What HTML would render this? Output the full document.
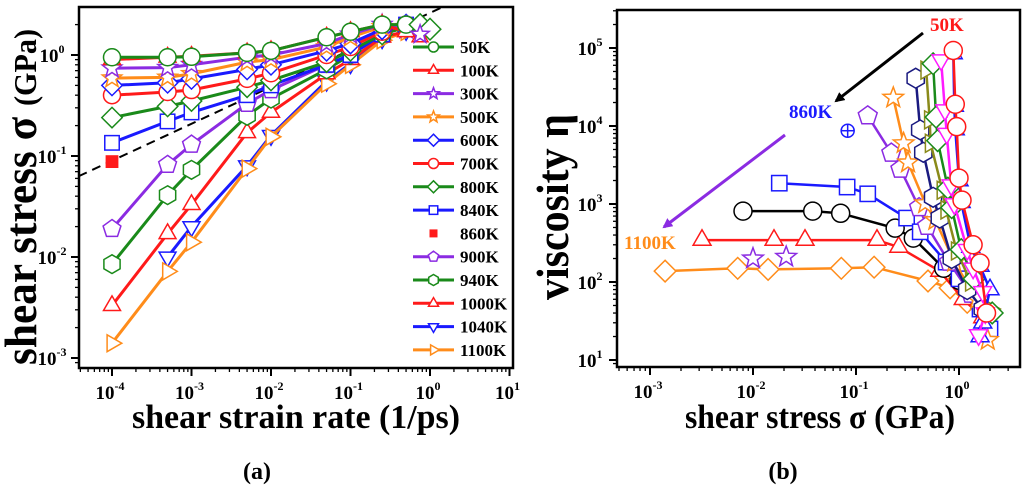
<!DOCTYPE html>
<html><head><meta charset="utf-8"><style>
html,body{margin:0;padding:0;background:#fff;}
svg{display:block;font-family:"Liberation Serif","DejaVu Serif",serif;}
</style></head><body>
<svg id="fig" width="1024" height="490" viewBox="0 0 1024 490" xmlns="http://www.w3.org/2000/svg">
<g id="gA"></g>
<g id="gB"></g>
<text x="257" y="479" font-size="24" font-weight="bold" text-anchor="middle">(a)</text>
<text x="783" y="479" font-size="24" font-weight="bold" text-anchor="middle">(b)</text>
</svg>
<script>
// ---------- Panel (a) data ----------
const rateX = [1e-4,5e-4,1e-3,5e-3,1e-2,5e-2,1e-1,2.5e-1,5e-1];
const s50K   = [0.95,0.95,0.96,1.05,1.1,1.5,1.7,2.0,2.0];
const s100K  = [0.9,0.95,0.97,1.05,1.1,1.5,1.7,2.0,1.7];
const s300K  = [0.74,0.75,0.8,0.95,1.0,1.3,1.6,2.0,1.8];
const s500K  = [0.59,0.6,0.65,0.85,0.9,1.2,1.5,1.9,1.9];
const s600K  = [0.5,0.53,0.58,0.72,0.8,1.1,1.3,1.8,2.0];
const s700K  = [0.4,0.43,0.45,0.58,0.66,1.0,1.2,1.7,2.0];
const s800K  = [0.24,0.31,0.35,0.48,0.56,0.85,1.1,1.6,1.9];
const s840K  = [0.135,0.22,0.27,0.4,0.5,0.8,1.0,1.6,2.0];
const s860K  = [0.088];
const s900K  = [0.019,0.082,0.13,0.33,0.45,0.8,1.0,1.6,1.9];
const s940K  = [0.0085,0.041,0.073,0.25,0.37,0.72,1.0,1.6,1.9];
const s1000K = [0.0033,0.017,0.033,0.17,0.27,0.65,0.9,1.5,1.7];
const s1040K = [null,0.010,0.020,0.08,0.16,0.55,0.82,1.45,1.75];
const s1100K = [0.0014,0.0072,0.014,0.075,0.155,0.52,0.8,1.4,1.7];
const extraX = [0.75,1.0];
const extra800K = [2.0,1.8];
const extra100K = [1.5,null];
const extra300K = [1.6,null];
const dashX = [3.8e-5, 1.45];
const dashY = [0.063, 2.99];
const aXTicks = [-4,-3,-2,-1,0,1];
const aYTicks = [-3,-2,-1,0];

// ---------- Panel (b) data ----------
const d1100Ks = [0.0014,0.0071,0.014,0.072,0.15,0.5,0.82,1.2];
const d1100Ke = [138,150,145,150,155,103,84,55];
const d1000Ks = [0.0032,0.016,0.032,0.16,0.26,0.65,1.1,1.7];
const d1000Ke = [345,345,345,345,280,138,60,35];
const d940Ks = [0.008,0.038,0.071,0.24,0.36,0.71,1.0,1.4];
const d940Ke = [810,810,760,490,365,150,105,70];
const d840Ks = [0.018,0.082,0.13,0.31,0.42,0.75,1.0,1.6,2.0];
const d840Ke = [1850,1650,1350,660,440,180,110,45,25];
const d900Ks = [0.13,0.22,0.27,0.41,0.49,0.8,1.3,1.9];
const d900Ke = [13500,4500,2800,900,520,180,70,40];
const d500Ks = [0.23,0.29,0.32,0.47,0.59,0.9,1.5,1.9];
const d500Ke = [23000,6000,3400,1020,620,180,60,18];
const d300Ks = [0.01,0.021];
const d300Ke = [200,210];
const d860Ks = [0.083];
const d860Ke = [8700];
const dHexs = [0.38,0.42,0.45,0.56,0.65,0.85,1.2,1.7];
const dHexe = [41000,8900,4600,1220,660,200,80,45];
const dOlivs = [0.48,0.52,0.53,0.69,0.75,0.95,1.3,2.0];
const dOlive = [52000,12000,6000,1500,840,250,100,45];
const dGrns = [0.56,0.6,0.62,0.78,0.85,1.05,1.4,2.1];
const dGrne = [63000,13000,6500,1600,900,260,110,40];
const dBlus = [0.88,0.9,0.92,1.0,1.05,1.3,1.6,2.0,1.7,1.6];
const dBlue = [85000,18000,9000,2000,1050,280,160,80,30,20];
const dMags = [0.67,0.73,0.76,0.84,0.9,1.2,1.37,1.7,1.8,1.55];
const dMage = [70000,16000,8000,1750,1000,260,150,75,40,21];
const dReds = [0.88,0.92,0.95,1.0,1.07,1.37,1.6,1.85];
const dRede = [93000,19000,9800,2150,1120,300,175,40];
const bXTicks = [-3,-2,-1,0];
const bYTicks = [1,2,3,4,5];

const NS = "http://www.w3.org/2000/svg";
function mk(parent, tag, attrs){
  const e = document.createElementNS(NS, tag);
  for (const k in attrs) e.setAttribute(k, attrs[k]);
  parent.appendChild(e);
  return e;
}
const L = Math.log10;
const aX = v => 112 + 79.5*(L(v)+4);
const aY = v => 55 - 101*L(v);
const bX = v => 959 + 103*L(v);
const bY = v => 282 - 78*(L(v)-2);

function marker(g, shape, x, y, color, r){
  r = r || 7;
  const a = {fill:'#fff', stroke:color, 'stroke-width':1.5};
  let e;
  const poly = (pts)=>mk(g,'polygon',Object.assign({points:pts.map(p=>p[0].toFixed(1)+','+p[1].toFixed(1)).join(' ')},a));
  const reg = (n,rot,rr)=>{const p=[];for(let i=0;i<n;i++){const t=rot+i*2*Math.PI/n;p.push([x+rr*Math.cos(t),y+rr*Math.sin(t)]);}return p;};
  if(shape==='circle') e = mk(g,'circle',Object.assign({cx:x,cy:y,r:r},a));
  else if(shape==='tri') e = poly(reg(3,-Math.PI/2,r*1.15));
  else if(shape==='dtri') e = poly(reg(3,Math.PI/2,r*1.15));
  else if(shape==='rtri') e = poly(reg(3,0,r*1.15));
  else if(shape==='diamond') e = poly(reg(4,-Math.PI/2,r*1.2));
  else if(shape==='square') e = mk(g,'rect',Object.assign({x:x-r*0.85,y:y-r*0.85,width:r*1.7,height:r*1.7},a));
  else if(shape==='fsquare') e = mk(g,'rect',{x:x-r*0.8,y:y-r*0.8,width:r*1.6,height:r*1.6,fill:color});
  else if(shape==='pent') e = poly(reg(5,-Math.PI/2,r*1.1));
  else if(shape==='hex') e = poly(reg(6,-Math.PI/2,r*1.1));
  else if(shape==='star'){const p=[];for(let i=0;i<10;i++){const t=-Math.PI/2+i*Math.PI/5;const rr=i%2?r*0.5:r*1.2;p.push([x+rr*Math.cos(t),y+rr*Math.sin(t)]);}e=poly(p);}
  else if(shape==='cross'){e=mk(g,'circle',Object.assign({cx:x,cy:y,r:r},a));
    mk(g,'line',{x1:x-r,y1:y,x2:x+r,y2:y,stroke:color,'stroke-width':1.5});
    mk(g,'line',{x1:x,y1:y-r,x2:x,y2:y+r,stroke:color,'stroke-width':1.5});}
  return e;
}

function series(g, xs, ys, fx, fy, color, shape, name, r, lw, dash){
  const s = mk(g,'g',{});
  
  
  const pts=[];
  xs.forEach((xv,i)=>{ if(ys[i]!=null) pts.push([fx(xv),fy(ys[i])]); });
  if(pts.length>1 && lw>0){
    const pl = mk(s,'polyline',{points:pts.map(p=>p[0].toFixed(1)+','+p[1].toFixed(1)).join(' '),fill:'none',stroke:color,'stroke-width':lw});
    if(dash) pl.setAttribute('stroke-dasharray',dash);
  }
  pts.forEach(p=>marker(s,shape,p[0],p[1],color,r));
}

function axes(g, x0,y0,x1,y1, fx, fy, xt, yt, xmin,xmax,ymin,ymax){
  const ax = mk(g,'g',{});
  
  
  for(let d=Math.floor(xmin); d<=xmax; d++){
    for(let m=1;m<10;m++){const v=m*Math.pow(10,d); const lv=L(v); if(lv<xmin||lv>xmax) continue;
      const X=fx(v); mk(ax,'line',{x1:X,y1:y1,x2:X,y2:y1+(m===1?8:4),stroke:'#000','stroke-width':m===1?2:1.3});}
  }
  for(let d=Math.floor(ymin); d<=ymax; d++){
    for(let m=1;m<10;m++){const v=m*Math.pow(10,d); const lv=L(v); if(lv<ymin||lv>ymax) continue;
      const Y=fy(v); mk(ax,'line',{x1:x0,y1:Y,x2:x0-(m===1?8:4),y2:Y,stroke:'#000','stroke-width':m===1?2:1.3});}
  }
  mk(ax,'rect',{x:x0,y:y0,width:x1-x0,height:y1-y0,fill:'none',stroke:'#000','stroke-width':2.5});
  xt.forEach(e=>{const X=fx(Math.pow(10,e));
    const t=mk(ax,'text',{x:X-2,y:y1+31,'font-size':19,'font-weight':'bold','text-anchor':'middle'});
    
    
    t.textContent='10';
    const s=mk(t,'tspan',{dy:-9,'font-size':12});s.textContent=String(e);});
  yt.forEach(e=>{const Y=fy(Math.pow(10,e));
    const t=mk(ax,'text',{x:x0-27,y:Y+7,'font-size':19,'font-weight':'bold','text-anchor':'middle'});
    
    
    t.textContent='10';
    const s=mk(t,'tspan',{dy:-9,'font-size':12});s.textContent=String(e);});
}

// ---------- draw panel a ----------
const gA = document.getElementById('gA');
axes(gA,79,7,513,368,aX,aY,aXTicks,aYTicks,-4.42,1.04,-3.09,0.475);
const dl = mk(gA,'line',{x1:aX(dashX[0]),y1:aY(dashY[0]),x2:aX(dashX[1]),y2:aY(dashY[1]),stroke:'#000','stroke-width':2,'stroke-dasharray':'9,6'});


const GRN='#1a8a1a',RED='#ff1a1a',PUR='#8b2be2',ORG='#ff8c1a',BLU='#1a1aff';
const aSeries = [
  [s1040K,BLU,'dtri','1040K'],[s1100K,ORG,'rtri','1100K'],[s1000K,RED,'tri','1000K'],[s940K,GRN,'hex','940K'],
  [s900K,PUR,'pent','900K'],[s840K,BLU,'square','840K'],[s800K,GRN,'diamond','800K'],[s700K,RED,'circle','700K'],
  [s600K,BLU,'diamond','600K'],[s500K,ORG,'star','500K'],[s300K,PUR,'star','300K'],[s100K,RED,'tri','100K'],[s50K,GRN,'circle','50K']
];
aSeries.forEach(s=>series(gA,rateX,s[0],aX,aY,s[1],s[2],'series-'+s[3],8.5,3));
series(gA,extraX,extra800K,aX,aY,GRN,'diamond','series-800K-tail',9,0);
series(gA,extraX,extra100K,aX,aY,RED,'tri','series-100K-tail',8,0);
series(gA,extraX,extra300K,aX,aY,PUR,'star','series-300K-tail',8,0);
series(gA,[1e-4],s860K,aX,aY,RED,'fsquare','series-860K',8,0);

const legItems=[['50K',GRN,'circle'],['100K',RED,'tri'],['300K',PUR,'star'],['500K',ORG,'star'],['600K',BLU,'diamond'],['700K',RED,'circle'],['800K',GRN,'diamond'],['840K',BLU,'square'],['860K',RED,'fsquare'],['900K',PUR,'pent'],['940K',GRN,'hex'],['1000K',RED,'tri'],['1040K',BLU,'dtri'],['1100K',ORG,'rtri']];
const lg = mk(gA,'g',{});


legItems.forEach((it,i)=>{
  const y=47+i*23.3;
  const e=mk(lg,'g',{});
  
  
  if(it[2]!=='fsquare') mk(e,'line',{x1:413,y1:y,x2:454,y2:y,stroke:it[1],'stroke-width':3});
  marker(e,it[2],433.5,y,it[1],5);
  const t=mk(e,'text',{x:460,y:y+6,'font-size':17,'font-weight':'bold'});
  t.textContent=it[0];
});
const ayt=mk(gA,'text',{transform:'translate(36,197) rotate(-90)','text-anchor':'middle','font-weight':'bold','font-size':46,textLength:336,lengthAdjust:'spacingAndGlyphs'});


ayt.innerHTML='shear stress σ <tspan font-size="32">(GPa)</tspan>';
const axt=mk(gA,'text',{x:296,y:428,'text-anchor':'middle','font-weight':'bold','font-size':34,textLength:328,lengthAdjust:'spacingAndGlyphs'});


axt.textContent='shear strain rate (1/ps)';

// ---------- draw panel b ----------
const gB = document.getElementById('gB');
axes(gB,617,10,1020,367,bX,bY,bXTicks,bYTicks,-3.32,0.59,0.91,5.49);
const NAVY='#1a1a80',OLIVE='#8a8a1a',MAG='#ff1aff';
const bSeries=[
  [d1100Ks,d1100Ke,ORG,'diamond','1100K'],[d1000Ks,d1000Ke,RED,'tri','1000K'],[d940Ks,d940Ke,'#000','circle','940K'],
  [d840Ks,d840Ke,BLU,'square','840K'],[d900Ks,d900Ke,PUR,'pent','900K'],[d500Ks,d500Ke,ORG,'star','500K-b'],
  [dHexs,dHexe,NAVY,'hex','hex-series'],[dOlivs,dOlive,OLIVE,'rtri','olive-series'],[dGrns,dGrne,GRN,'diamond','green-series'],
  [dBlus,dBlue,BLU,'tri','blue-series'],[dMags,dMage,MAG,'dtri','magenta-series'],[dReds,dRede,RED,'circle','50K']
];
bSeries.forEach(s=>series(gB,s[0],s[1],bX,bY,s[2],s[3],'viscosity-'+s[4],9,2.5));
series(gB,d300Ks,d300Ke,bX,bY,PUR,'star','viscosity-stars',9,0);
series(gB,d860Ks,d860Ke,bX,bY,BLU,'cross','viscosity-860K',6.5,0);

const defs=mk(document.getElementById('fig'),'defs',{});
[['ahK','#000'],['ahP',PUR]].forEach(a=>{
  const m=mk(defs,'marker',{id:a[0],markerWidth:10,markerHeight:10,refX:8,refY:5,orient:'auto',markerUnits:'userSpaceOnUse'});
  mk(m,'path',{d:'M0,0 L10,5 L0,10 Z',fill:a[1]});
});
const ar1=mk(gB,'line',{x1:923,y1:33,x2:836,y2:101,stroke:'#000','stroke-width':3,'marker-end':'url(#ahK)'});


const ar2=mk(gB,'line',{x1:785,y1:135,x2:664,y2:227,stroke:PUR,'stroke-width':3,'marker-end':'url(#ahP)'});


[['50K',930,31,RED,'label-50K'],['860K',789,118,BLU,'label-860K'],['1100K',624,249,ORG,'label-1100K']].forEach(l=>{
  const t=mk(gB,'text',{x:l[1],y:l[2],'font-size':19,'font-weight':'bold',fill:l[3]});
  
  
  t.textContent=l[0];
});
const byt=mk(gB,'text',{transform:'translate(568,207) rotate(-90)','text-anchor':'middle','font-weight':'bold','font-size':46,textLength:186,lengthAdjust:'spacingAndGlyphs'});


byt.textContent='viscosity η';
const bxt=mk(gB,'text',{x:820,y:428,'text-anchor':'middle','font-weight':'bold','font-size':34,textLength:270,lengthAdjust:'spacingAndGlyphs'});


bxt.textContent='shear stress σ (GPa)';
</script>
</body></html>
